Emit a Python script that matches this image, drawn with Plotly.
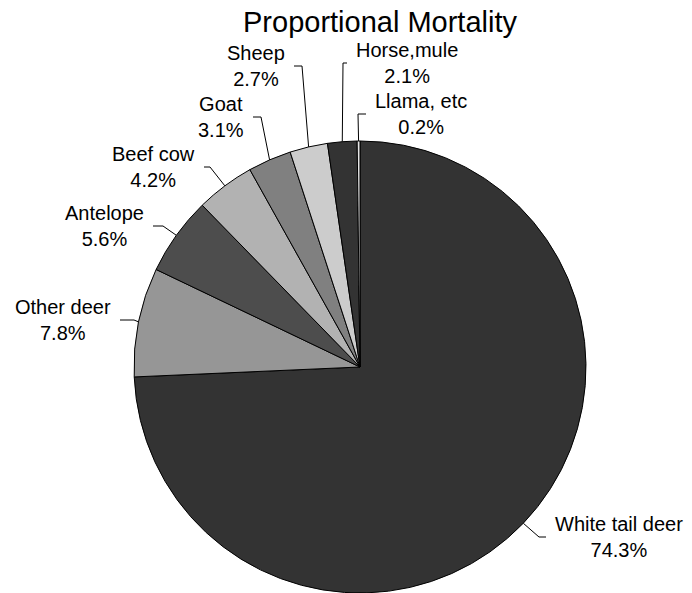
import math
import plotly.graph_objects as go

# ---- data ----
categories = ["White tail deer", "Other deer", "Antelope", "Beef cow", "Goat",
              "Sheep", "Horse,mule", "Llama, etc"]
percent = [74.3, 7.8, 5.6, 4.2, 3.1, 2.7, 2.1, 0.2]
pct_labels = ["74.3%", "7.8%", "5.6%", "4.2%", "3.1%", "2.7%", "2.1%", "0.2%"]

# ---- style / layout ----
colors = ["#333333", "#969696", "#4d4d4d", "#b2b2b2", "#808080",
          "#cccccc", "#333333", "#e6e6e6"]
W, H = 692, 593
R = 226            # pie radius (px)
CX = 360           # pie centre x (px)
CY = H - R         # pie centre y (px from top)
# label elbow positions relative to the pie centre (px), side of text
elbow = [(179, 170), (-226, -47), (-197, -141), (-150, -200), (-99, -250),
         (-58, -301), (-17, -304), (-2, -253)]
side = ["right", "left", "left", "left", "left", "left", "right", "right"]
tail = [7, 14, 10, 6, 8, 8, 4, 8]
gap = 7
font_family = "Arial, Liberation Sans, sans-serif"

fig = go.Figure(go.Pie(
    labels=categories, values=percent, sort=False, direction="clockwise",
    rotation=0, textinfo="none", hoverinfo="label+percent",
    marker=dict(colors=colors, line=dict(color="black", width=1)),
    domain=dict(x=[(CX - R) / W, (CX + R) / W], y=[0, 2 * R / H]),
))

def px(x, y):
    return x / W, 1 - y / H

total = sum(percent)
cum = 0.0
annotations = []
shapes = []
for i, v in enumerate(percent):
    mid = (cum + v / 2) / total * 2 * math.pi
    cum += v
    ex = CX + R * math.sin(mid)
    ey = CY - R * math.cos(mid)
    bx, by = CX + elbow[i][0], CY + elbow[i][1]
    sgn = 1 if side[i] == "right" else -1
    tx = bx + sgn * tail[i]
    x0, y0 = px(ex, ey)
    x1, y1 = px(bx, by)
    x2, y2 = px(tx, by)
    shapes.append(dict(type="path", xref="paper", yref="paper",
                       path=f"M {x0} {y0} L {x1} {y1} L {x2} {y2}",
                       line=dict(color="black", width=1)))
    lx, ly = px(tx + sgn * gap, by)
    annotations.append(dict(
        x=lx, y=ly, xref="paper", yref="paper", showarrow=False,
        text=f"{categories[i]}<br>{pct_labels[i]}", align="center",
        xanchor="left" if sgn > 0 else "right", yanchor="middle",
        font=dict(family=font_family, size=20, color="black")))

fig.update_layout(
    width=W, height=H, margin=dict(l=0, r=0, t=0, b=0),
    paper_bgcolor="white", plot_bgcolor="white", showlegend=False,
    title=dict(text="Proportional Mortality", x=380 / W, xanchor="center",
               y=1 - 22 / H, yanchor="middle",
               font=dict(family=font_family, size=29, color="black")),
    annotations=annotations, shapes=shapes,
)

fig.write_html("out.html")
